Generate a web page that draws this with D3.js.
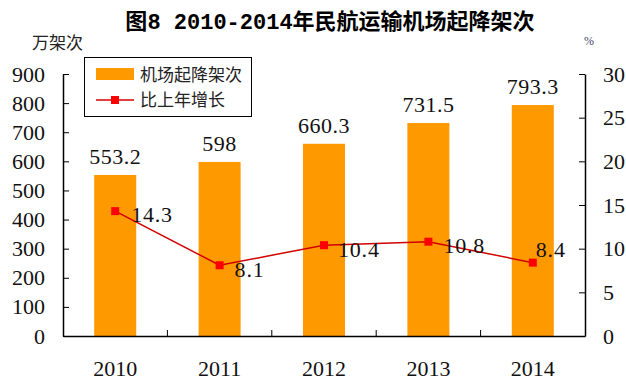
<!DOCTYPE html>
<html><head><meta charset="utf-8">
<script src="https://cdn.jsdelivr.net/npm/d3@7"></script>
<style>body{margin:0;background:#fff}svg{display:block}</style>
</head><body>
<svg id="c" width="626" height="389"></svg>
<script>
const years = ["2010","2011","2012","2013","2014"];
const flights = [553.2, 598, 660.3, 731.5, 793.3];
const growth = [14.3, 8.1, 10.4, 10.8, 8.4];
const leftTicks = [0,100,200,300,400,500,600,700,800,900];
const rightTicks = [0,5,10,15,20,25,30];
const barLabels = ["553.2","598","660.3","731.5","793.3"];
const lineLabels = ["14.3","8.1","10.4","10.8","8.4"];

const svg = d3.select("#c");
const L = 63, R = 585, T = 74, B = 336;
const serif = "'Liberation Serif','DejaVu Serif',serif";
const cjk = "'Noto Sans CJK SC',sans-serif";

const xb = d3.scaleBand().domain(years).range([L, R]);
const yL = d3.scaleLinear().domain([0, 900]).range([B, T]);
const yR = d3.scaleLinear().domain([0, 30]).range([B, T]);

// title
const tt = svg.append("text").attr("x", 330).attr("y", 29).attr("text-anchor", "middle")
  .attr("font-family", cjk).attr("font-weight", "bold").attr("font-size", 22).attr("fill","#000");
tt.append("tspan").text("图");
tt.append("tspan").attr("font-family", "'Liberation Mono','DejaVu Sans Mono',monospace").text("8 2010-2014");
tt.append("tspan").text("年民航运输机场起降架次");

svg.append("text").attr("x", 32).attr("y", 49).attr("font-family", cjk).attr("font-size", 17).attr("fill","#222").text("万架次");
svg.append("text").attr("x", 584).attr("y", 45).attr("font-family", serif).attr("font-size", 12).attr("fill","#446").text("%");

// bars
svg.selectAll("rect.bar").data(flights).join("rect").attr("class","bar")
  .attr("x", (d,i) => xb(years[i]) + xb.bandwidth()/2 - 21)
  .attr("width", 42)
  .attr("y", d => yL(d)).attr("height", d => B - yL(d))
  .attr("fill", "#FF9900");

// axes
const gl = svg.append("g").attr("transform", `translate(${L},0)`)
  .call(d3.axisLeft(yL).tickValues(leftTicks).tickSizeInner(-6).tickSizeOuter(0).tickPadding(18));
const gr = svg.append("g").attr("transform", `translate(${R},0)`)
  .call(d3.axisRight(yR).tickValues(rightTicks).tickSizeInner(-6).tickSizeOuter(0).tickPadding(18));
const gb = svg.append("g").attr("transform", `translate(0,${B})`)
  .call(d3.axisBottom(xb).tickSize(0).tickPadding(24));
[gl, gr, gb].forEach(g => {
  g.selectAll("path").attr("stroke", "#000").attr("stroke-width", 1.5);
  g.selectAll("line").attr("stroke", "#000");
  g.selectAll("text").attr("font-family", serif).attr("font-size", 22).attr("fill", "#111");
});
gb.selectAll("text").attr("dy", "0.71em");
// x category separators
svg.append("g").selectAll("line").data(years.slice(1)).join("line")
  .attr("x1", d => xb(d)).attr("x2", d => xb(d)).attr("y1", B).attr("y2", B - 6).attr("stroke", "#000");

// bar labels
svg.selectAll("text.bl").data(flights).join("text").attr("class","bl")
  .attr("x", (d,i) => xb(years[i]) + xb.bandwidth()/2)
  .attr("y", d => yL(d) - 11).attr("text-anchor", "middle")
  .attr("font-family", serif).attr("font-size", 22).attr("letter-spacing", 0.5).attr("fill", "#111")
  .text((d,i) => barLabels[i]);

// line
const cx = i => xb(years[i]) + xb.bandwidth()/2;
svg.append("path").datum(growth)
  .attr("d", d3.line().x((d,i) => cx(i)).y(d => yR(d)))
  .attr("fill", "none").attr("stroke", "#D00000").attr("stroke-width", 1.5);
svg.selectAll("rect.pt").data(growth).join("rect").attr("class","pt")
  .attr("x", (d,i) => cx(i) - 4).attr("y", d => yR(d) - 4).attr("width", 8).attr("height", 8)
  .attr("fill", "#FF0000");
// label offsets: last label sits above-right of its point
const ldx = [16, 15, 14, 15, 3];
const ldy = [3, 4, 4, 4, -13];
svg.selectAll("text.ll").data(growth).join("text").attr("class","ll")
  .attr("x", (d,i) => cx(i) + ldx[i]).attr("y", (d,i) => yR(d) + ldy[i]).attr("dy", "0.35em")
  .attr("font-family", serif).attr("font-size", 22).attr("letter-spacing", 0.8).attr("fill", "#111")
  .text((d,i) => lineLabels[i]);

// legend
const lg = svg.append("g");
lg.append("rect").attr("x", 84.5).attr("y", 57.5).attr("width", 167).attr("height", 59)
  .attr("fill", "#fff").attr("stroke", "#000").attr("stroke-width", 1);
lg.append("rect").attr("x", 96).attr("y", 68).attr("width", 38).attr("height", 12).attr("fill", "#FF9900");
lg.append("text").attr("x", 140).attr("y", 81).attr("font-family", cjk).attr("font-size", 17).attr("fill","#222").text("机场起降架次");
lg.append("line").attr("x1", 96).attr("x2", 134).attr("y1", 100).attr("y2", 100).attr("stroke", "#D00000").attr("stroke-width", 1.5);
lg.append("rect").attr("x", 111).attr("y", 96).attr("width", 8).attr("height", 8).attr("fill", "#FF0000");
lg.append("text").attr("x", 140).attr("y", 106).attr("font-family", cjk).attr("font-size", 17).attr("fill","#222").text("比上年增长");
</script>
</body></html>
